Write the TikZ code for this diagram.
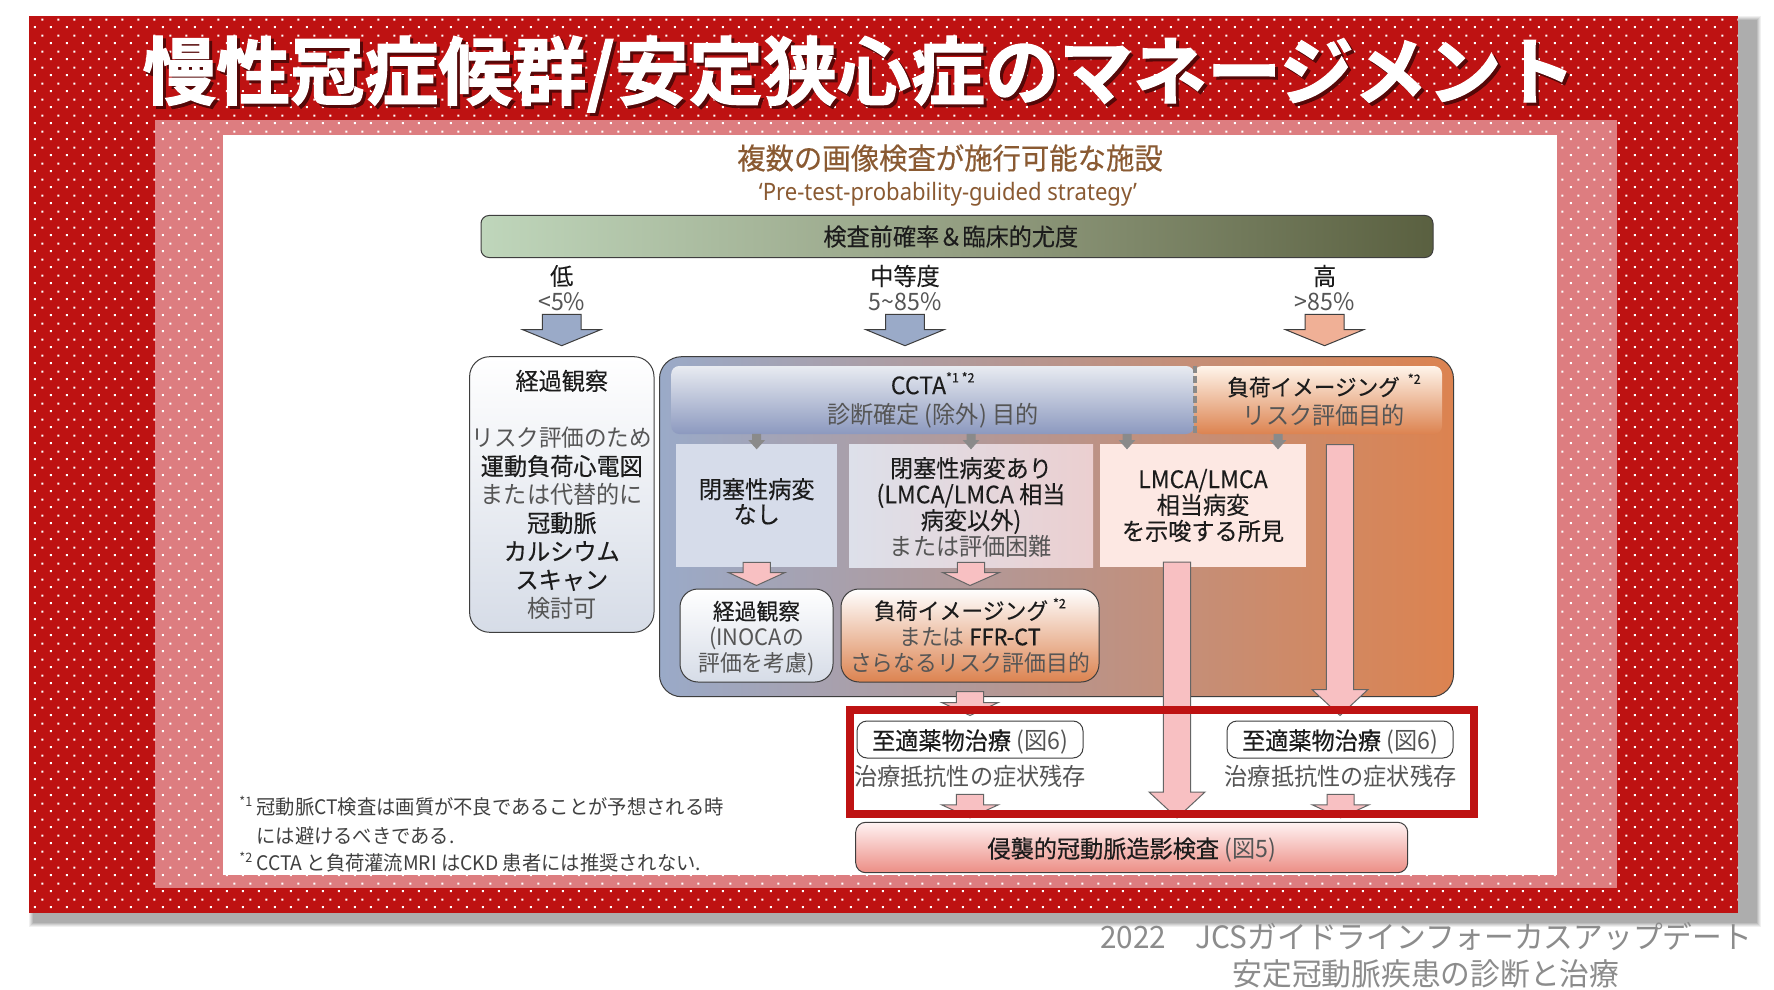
\documentclass[tikz,border=0pt]{standalone}
\usepackage{fontspec}
\usetikzlibrary{calc,patterns}
\setmainfont{Noto Sans CJK JP}[FakeStretch=0.965,FakeBold=0.12]
\newfontfamily\LIGHTFONT{Noto Sans CJK JP}[FakeStretch=0.965]
\newfontfamily\STRONGFONT{Noto Sans CJK JP}[FakeStretch=0.965,FakeBold=0.4]
\newfontfamily\TITLEFONT{Noto Sans CJK JP Bold}[FakeBold=1.6]
\newfontfamily\LATINFONT{Noto Sans}[FakeStretch=0.92]
\definecolor{RED}{HTML}{BE1212}
\definecolor{PINK}{HTML}{DD7D80}
\definecolor{SOFT}{HTML}{555555}
\definecolor{INK}{HTML}{1C1C1C}
\definecolor{EDGE}{HTML}{3E3E3E}
\definecolor{FLOW}{HTML}{F8C0C2}
\definecolor{BROWNTXT}{HTML}{8A5A32}
\definecolor{BLUEFLOW}{HTML}{9AAAC8}
\definecolor{ORANGEFLOW}{HTML}{F0B096}
\definecolor{GRAYFLOW}{HTML}{8A8A8A}
\definecolor{ORANGEEND}{HTML}{DC8350}
\definecolor{BARLEFT}{HTML}{BFD6BB}
\definecolor{BARMID}{HTML}{949F82}
\definecolor{BARRIGHT}{HTML}{5A6040}
\definecolor{PANELMID}{HTML}{B9948B}
\definecolor{CCTATOP}{HTML}{E8EBF1}
\definecolor{CCTAEND}{HTML}{8C99BF}
\definecolor{COOLEND}{HTML}{D6DCE7}
\definecolor{NONEFILL}{HTML}{D6DCEA}
\definecolor{OBSTLEFT}{HTML}{DDE0EA}
\definecolor{OBSTRIGHT}{HTML}{EBCFD0}
\definecolor{LMCAFILL}{HTML}{FDE8E3}
\definecolor{INVASEND}{HTML}{EC8E85}
\pgfdeclarepatternformonly{JCSDOTS}{\pgfpointorigin}{\pgfqpoint{8pt}{8pt}}{\pgfqpoint{8pt}{8pt}}{
  \pgfpathrectangle{\pgfqpoint{1pt}{1pt}}{\pgfqpoint{1pt}{1pt}}
  \pgfpathrectangle{\pgfqpoint{5pt}{5pt}}{\pgfqpoint{1pt}{1pt}}
  \pgfusepath{fill}
}
\newcommand{\FAINT}[1]{{\LIGHTFONT\color{SOFT}#1}}
\newcommand{\BOLDTXT}[1]{{\STRONGFONT #1}}
\newcommand{\MARK}[1]{\raisebox{0.9ex}{\fontsize{6.5}{7}\selectfont #1}}
\begin{document}
\begin{tikzpicture}
[
 x=0.5pt, y=-0.5pt,
 inner sep=0pt,
 every node/.style={text=INK, font=\fontsize{12}{13}\selectfont, align=center},
 TALLTXT/.style={font=\fontsize{12}{14.2}\selectfont},
 SMALLTXT/.style={font=\fontsize{11.3}{13}\selectfont},
 NOTE/.style={anchor=west, text=black!75, font=\LIGHTFONT\fontsize{10}{12}\selectfont},
 RESTTXT/.style={text=SOFT, font=\LIGHTFONT\fontsize{12}{13}\selectfont, minimum height=12pt},
 ROUNDBOX/.style={rectangle, rounded corners=#1, draw=EDGE, line width=0.5pt},
 FLATBOX/.style={rectangle, minimum height=61.5pt},
 GRADBAR/.style={rectangle, rounded corners=4pt, minimum height=34pt, font=\fontsize{12}{14.5}\selectfont},
 BLOCK/.style n args={3}{line width=0.5pt, to path={
    let \p1=(\tikztostart), \p2=(\tikztotarget) in
    (\x1-#1,\y1) -- (\x1+#1,\y1) -- (\x1+#1,\y2+#3) -- (\x1+#2,\y2+#3) -- (\x2,\y2)
    -- (\x1-#2,\y2+#3) -- (\x1-#1,\y2+#3) -- cycle}},
 TOPARROW/.style={BLOCK={9.7pt}{19.5pt}{8pt}, draw=EDGE},
 SHORTARROW/.style={BLOCK={6.8pt}{14.2pt}{6.5pt}, draw=EDGE!80, fill=FLOW},
 LONGARROW/.style={BLOCK={6.8pt}{14pt}{13pt}, draw=EDGE!80, fill=FLOW},
 GRAYARROW/.style={BLOCK={2pt}{3.6pt}{4pt}, draw=GRAYFLOW, fill=GRAYFLOW},
]
%
\useasboundingbox (0,0) rectangle (1774,990);
\fill [white] (0,0) rectangle (1774,990);
%
\foreach \e/\shade in {4/6,3/12,2/19,1/26,0/32}
   { \fill [black!\shade!white] (33-\e,20-\e) rectangle (1757+\e,923+\e); }
\fill [RED]  (29,16) rectangle (1738,913);
\fill [PINK] (155,120) rectangle (1617,888);
\fill [pattern=JCSDOTS, pattern color=white] (29,16) rectangle (1738,913);
\fill [white] (223,135) rectangle (1557,875);
%
\node [text=RED!45!black, font=\TITLEFONT\fontsize{37}{38}\selectfont] (TITLESHADE) at (862,77) {慢性冠症候群/安定狭心症のマネージメント};
\node [text=white, font=\TITLEFONT\fontsize{37}{38}\selectfont] (TITLE) at (859,74) {慢性冠症候群/安定狭心症のマネージメント};
%
\node [text=BROWNTXT, font=\STRONGFONT\fontsize{14.7}{16}\selectfont] (HEAD) at (950,158) {複数の画像検査が施行可能な施設};
\node [text=BROWNTXT, font=\LATINFONT\fontsize{12}{13}\selectfont] (SUBHEAD) at (948,194) {‘Pre-test-probability-guided strategy’};
\node [ROUNDBOX=4pt, left color=BARLEFT, right color=BARRIGHT, middle color=BARMID, minimum width=476pt, minimum height=21pt] (PROB) at (957,236.5) {\hspace*{-6.2pt}検査前確率＆臨床的尤度};
%
\node (LOW)      at (561.7,276) {低};
\node [minimum height=12pt] (LOWPCT)  at (561.7,302) {\FAINT{<5\%}};
\node (MID)      at (905,276) {中等度};
\node [minimum height=12pt] (MIDPCT)  at (905,302) {\FAINT{5\textasciitilde85\%}};
\node (HIGH)     at (1324.6,276) {高};
\node [minimum height=12pt] (HIGHPCT) at (1324.6,302) {\FAINT{>85\%}};
%
\coordinate (LOWTIP)  at (561.7,345.7);
\coordinate (MIDTIP)  at (905,345.7);
\coordinate (HIGHTIP) at (1324.6,345.7);
\draw [TOPARROW, fill=BLUEFLOW]   (LOWPCT.south)  to (LOWTIP);
\draw [TOPARROW, fill=BLUEFLOW]   (MIDPCT.south)  to (MIDTIP);
\draw [TOPARROW, fill=ORANGEFLOW] (HIGHPCT.south) to (HIGHTIP);
%
\node [ROUNDBOX=10pt, top color=white, bottom color=COOLEND, minimum width=92.2pt, minimum height=137.8pt, TALLTXT] (WATCH) at (561.8,494.5)
   {経過観察\\ \\ \FAINT{\fontsize{11.7}{14.2}\selectfont リスク評価のため}\\ \BOLDTXT{運動負荷心電図}\\ \FAINT{または代替的に}\\ \BOLDTXT{冠動脈}\\ \BOLDTXT{カルシウム}\\ \BOLDTXT{スキャン}\\ \FAINT{検討可}};
%
\node [ROUNDBOX=11pt, left color=BLUEFLOW, right color=ORANGEEND, middle color=PANELMID, minimum width=397pt, minimum height=170pt] (PANEL) at (1056.5,526.7) {};
\node [GRADBAR, top color=CCTATOP, bottom color=CCTAEND, minimum width=261.5pt] (CCTA) at (932.7,400)
   {CCTA\MARK{*1 *2}\\ \FAINT{診断確定 (除外) 目的}};
\node [GRADBAR, top color=white!92!orange, bottom color=ORANGEEND, minimum width=124pt] (STRESS) at (1318,400)
   {\hspace*{6pt}{\fontsize{11.2}{14.5}\selectfont 負荷イメージング}\hspace{4pt}\MARK{*2}\\ \hspace*{6pt}\FAINT{リスク評価目的}};
\draw [GRAYFLOW, line width=2pt, dash pattern=on 3.5pt off 1.5pt] (CCTA.north east) -- (CCTA.south east);
%
\node [FLATBOX, fill=NONEFILL, font=\fontsize{12}{12.5}\selectfont, minimum width=80.7pt] (NONE) at (756.7,505.5) {閉塞性病変\\なし\rule[-4.8pt]{0pt}{4.8pt}};
\node [FLATBOX, left color=OBSTLEFT, right color=OBSTRIGHT, minimum width=122pt] (OBSTR) at (971,505.5)
   {\rule{0pt}{11.8pt}閉塞性病変あり\\(LMCA/LMCA 相当\\病変以外)\\ \FAINT{または評価困難}};
\node [FLATBOX, fill=LMCAFILL, minimum width=103pt] (LMCA) at (1203,505.5) {LMCA/LMCA\\相当病変\\を示唆する所見};
%
\node [ROUNDBOX=9pt, top color=white, bottom color=COOLEND, minimum width=76.5pt, minimum height=46.5pt, SMALLTXT] (INOCA) at (756.5,635.5)
   {\rule{0pt}{12.5pt}経過観察\\ \FAINT{(INOCAの}\\ \FAINT{評価を考慮)}};
\node [ROUNDBOX=9pt, top color=white, bottom color=ORANGEEND, minimum width=129pt, minimum height=46.5pt, SMALLTXT] (FFR) at (970,635.5)
   {負荷イメージング \MARK{*2}\\ \FAINT{または} \BOLDTXT{FFR-CT}\\ \FAINT{さらなるリスク評価目的}};
%
\node [ROUNDBOX=5pt, fill=white, minimum width=113pt, minimum height=18.5pt] (OMTA) at (970,739.5) {\rule{0pt}{12.5pt}\BOLDTXT{至適薬物治療} \FAINT{(図6)}};
\node [ROUNDBOX=5pt, fill=white, minimum width=113pt, minimum height=18.5pt] (OMTB) at (1340,739.5) {\rule{0pt}{12.5pt}\BOLDTXT{至適薬物治療} \FAINT{(図6)}};
\node [RESTTXT] (RESTA) at (970,776) {治療抵抗性の症状残存};
\node [RESTTXT] (RESTB) at (1340.6,776) {治療抵抗性の症状残存};
\node [ROUNDBOX=5pt, top color=white!95!red, bottom color=INVASEND, minimum width=276pt, minimum height=25.2pt] (INVAS) at (1131.7,847.5) {\rule{0pt}{12.5pt}\BOLDTXT{侵襲的冠動脈造影検査} \FAINT{(図5)}};
%
\coordinate (GRAYC) at ([shift={(-38pt,-2.5pt)}]LMCA.north);
\coordinate (GRAYD) at ([shift={(37.5pt,-2.5pt)}]LMCA.north);
\draw [GRAYARROW] (NONE.north |- CCTA.south) to ([yshift=-2.5pt]NONE.north);
\draw [GRAYARROW] (OBSTR.north |- CCTA.south) to ([yshift=-2.5pt]OBSTR.north);
\draw [GRAYARROW] (GRAYC |- CCTA.south) to (GRAYC);
\draw [GRAYARROW] (GRAYD |- STRESS.south) to (GRAYD);
%
\draw [SHORTARROW] ([yshift=2.5pt]NONE.south) to ([yshift=1.5pt]INOCA.north);
\draw [SHORTARROW] ([yshift=2.5pt]OBSTR.south) to ([yshift=1.5pt]FFR.north);
%
\coordinate (LMCAOUT)  at (1177,562);
\coordinate (LMCATIP)  at (1177,818);
\coordinate (STRESSOUT) at (1340,444.7);
\draw [LONGARROW] (LMCAOUT) to (LMCATIP);
\draw [LONGARROW] (STRESSOUT) to ([yshift=2.5pt]OMTB.north);
\draw [SHORTARROW] ([yshift=-4.5pt]FFR.south) to ([yshift=2.5pt]OMTA.north);
\draw [SHORTARROW] ([yshift=-3pt]RESTA.south) to ([yshift=2pt]RESTA.south |- INVAS.north);
\draw [SHORTARROW] ([yshift=-3pt]RESTB.south) to ([yshift=2pt]RESTB.south |- INVAS.north);
%
\draw [RED, line width=4pt] (850,710) rectangle (1474,814);
%
\node [NOTE, font=\LIGHTFONT\fontsize{6.5}{7}\selectfont] (MARKA) at (239,801) {*1};
\node [NOTE] (NOTEA) at (256,807) {冠動脈CT検査は画質が不良であることが予想される時};
\node [NOTE] (NOTEB) at (256,836) {には避けるべきである.};
\node [NOTE, font=\LIGHTFONT\fontsize{6.5}{7}\selectfont] (MARKB) at (239,857) {*2};
\node [NOTE] (NOTEC) at (256,863) {CCTA と負荷灌流MRI はCKD 患者には推奨されない.};
%
\node [text=black!45, font=\LIGHTFONT\fontsize{15.4}{18.5}\selectfont] (SOURCE) at (1426,955) {2022　JCSガイドラインフォーカスアップデート\\安定冠動脈疾患の診断と治療};
%
\end{tikzpicture}
\end{document}
